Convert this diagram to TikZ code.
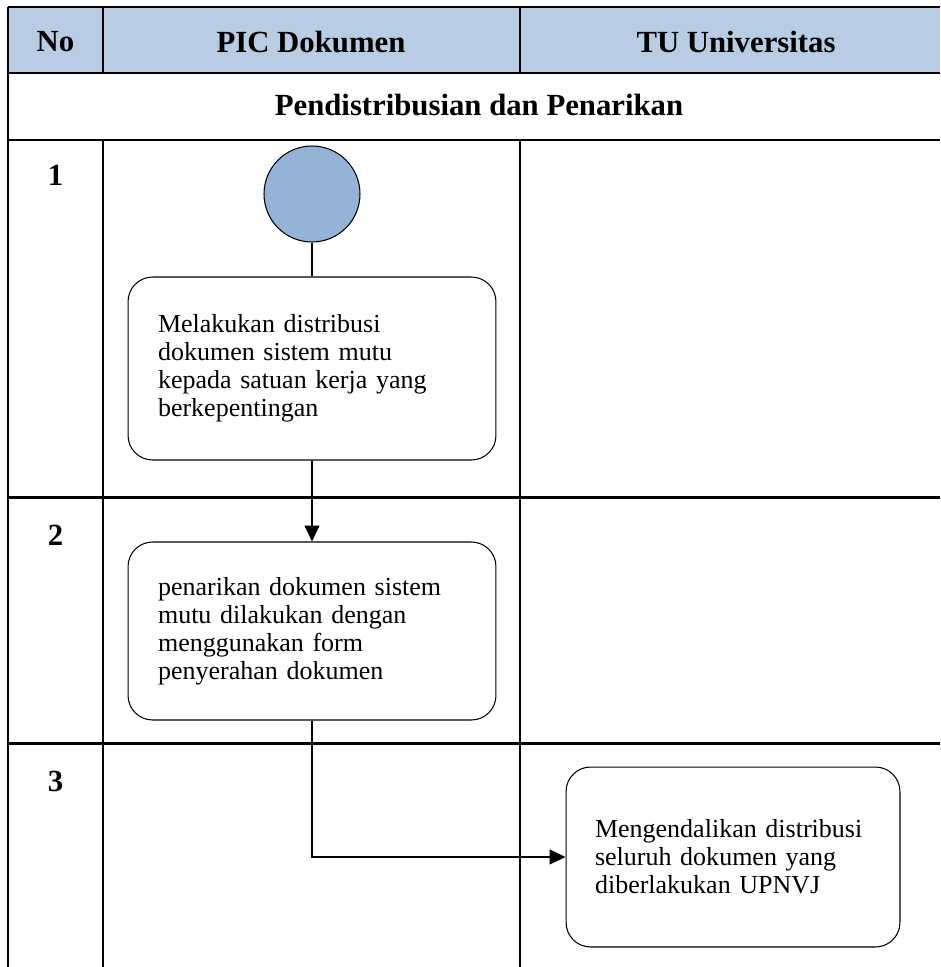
\documentclass[tikz,border=0pt]{standalone}
\usepackage{fontspec}
\setmainfont{Liberation Serif}
\usetikzlibrary{arrows.meta,positioning}
\definecolor{headblue}{RGB}{184,204,228}
\definecolor{startblue}{RGB}{149,179,215}

\begin{document}
\begin{tikzpicture}
  [x=0.02cm,y=-0.02cm,
   every node/.style={inner sep=0pt},
   grid/.style={line width=1.7pt},
   head/.style={font=\fontsize{17.5}{20}\selectfont\bfseries},
   act/.style={draw,line width=0.6pt,rounded corners=14pt,align=left,
     inner xsep=0.6cm,text width=6.16cm,
     font=\fontsize{14.8}{15.9}\selectfont},
   flow/.style={line width=0.6pt,-{Triangle[length=0.32cm,width=0.3cm]}}]
  \useasboundingbox (0,0) rectangle (940,967);
  % table
  \fill[headblue] (8,7) rectangle (940,73);
  \foreach \y in {7,73,140,497,743}
    \draw[grid] (8,\y) -- (940,\y);
  \draw[grid] (8,7) -- (8,967);
  \foreach \x in {103,520} {
    \draw[grid] (\x,7) -- (\x,73);
    \draw[grid] (\x,140) -- (\x,967);
  }
  \node[head] (hno) at (55.5,42) {No};
  \node[head] (hpic) at (311,42) {PIC Dokumen};
  \node[head] (htu) at (736,42) {TU Universitas};
  \node[head] (sect) at (479,105) {Pendistribusian dan Penarikan};
  \node[head] (r1) at (55.5,175) {1};
  \node[head] (r2) at (55.5,535) {2};
  \node[head] (r3) at (55.5,781) {3};
  % flow
  \node[circle,draw,fill=startblue,line width=0.6pt,minimum size=1.92cm] (start) at (312,194) {};
  \node[act,minimum height=3.66cm] (b1) at (312,368.5)
    {Melakukan distribusi\\dokumen sistem mutu\\kepada satuan kerja yang\\berkepentingan};
  \node[act,minimum height=3.56cm] (b2) at (312,631)
    {penarikan dokumen sistem\\mutu dilakukan dengan\\menggunakan form\\penyerahan dokumen};
  \node[act,minimum height=3.6cm,inner xsep=0.58cm,text width=5.52cm] (b3) at (733,857)
    {Mengendalikan distribusi\\seluruh dokumen yang\\diberlakukan UPNVJ};
  \draw[line width=1.7pt] (start) -- (b1);
  \draw[flow] (b1) -- (b2);
  \draw[flow] (b2.south) |- (b3.west);
\end{tikzpicture}
\end{document}
